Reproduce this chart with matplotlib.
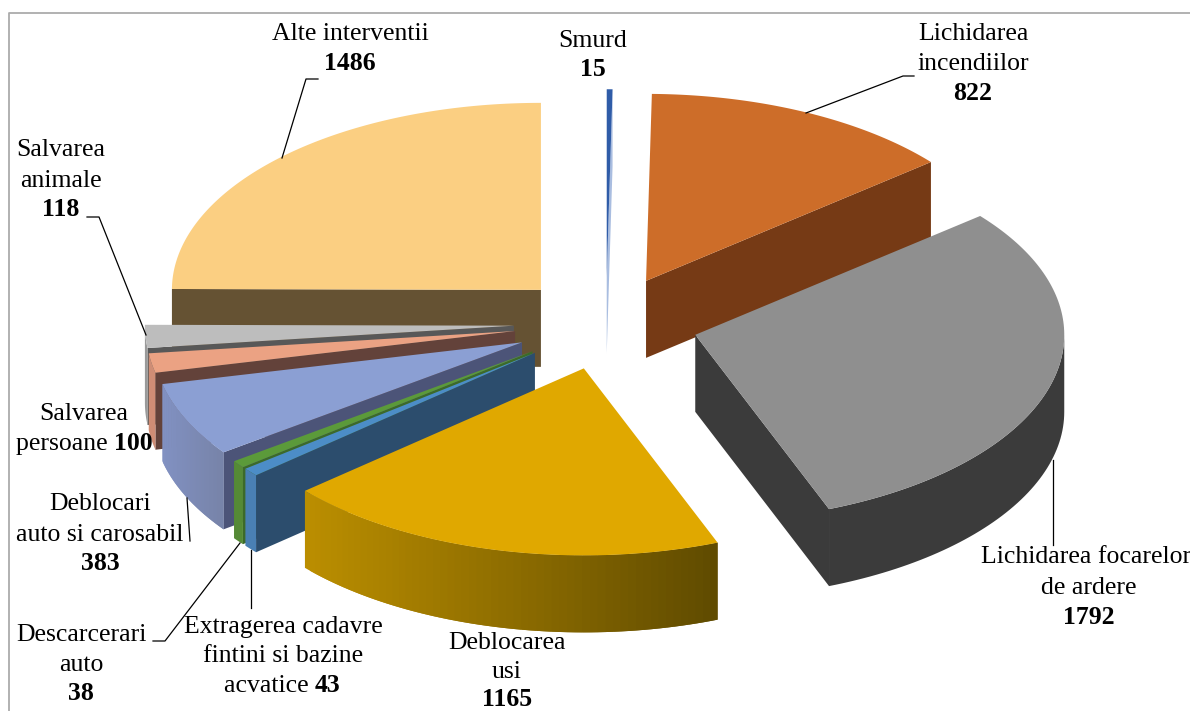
import numpy as np
import matplotlib
matplotlib.use('Agg')
import matplotlib.pyplot as plt
from matplotlib.collections import PolyCollection
from matplotlib.colors import to_rgb

categories = ['Smurd', 'Lichidarea incendiilor', 'Lichidarea focarelor de ardere',
              'Deblocarea usi', 'Extragerea cadavre fintini si bazine acvatice',
              'Descarcerari auto', 'Deblocari auto si carosabil', 'Salvarea persoane',
              'Salvarea animale', 'Alte interventii']
values = [15, 822, 1792, 1165, 43, 38, 383, 100, 118, 1486]

top_colors = ['#2f5ca8', '#cd6d29', '#8f8f8f', '#e0a800', '#4c8dc7',
              '#5b9a3a', '#8b9fd3', '#eba283', '#bdbdbd', '#fbcf82']
face_colors = ['#a9bde0', '#763a15', '#3b3b3b', '#5e4a00', '#2c4d6d',
               '#3c6a2a', '#4c5478', '#63423a', '#585858', '#655233']
rim_left = ['#2f5ca8', '#763a15', '#3b3b3b', '#bb8e00', '#4a80b4',
            '#558a36', '#8191c2', '#cf8d75', '#9a9a9a', '#655233']
rim_right = ['#2f5ca8', '#763a15', '#3b3b3b', '#5e4a00', '#4a80b4',
             '#558a36', '#7783a8', '#cf8d75', '#9a9a9a', '#655233']

# far slices first, the golden one sits on top of the rest
draw_order = [9, 0, 1, 2, 8, 7, 6, 5, 4, 3]

# pie geometry in pixels
cx, cy = 606, 323
rx, ry = 369, 187
depth = 77
explode = 0.25


def ring(t):
    t = np.radians(t)
    return np.column_stack([rx * np.sin(t), -ry * np.cos(t)])


def blend(a, b, f):
    a, b = np.array(to_rgb(a)), np.array(to_rgb(b))
    return tuple(a + (b - a) * f)


def draw_slice(ax, i, start, end):
    mid = (start + end) / 2
    apex = np.array([cx, cy]) + explode * ring(np.array([mid]))[0]
    down = np.array([0, depth])

    # cut faces, only those turned towards the viewer
    for t, visible in ((start, np.sin(np.radians(start)) < 0), (end, np.sin(np.radians(end)) > 0)):
        if visible:
            p = apex + ring(np.array([t]))[0]
            ax.fill(*np.array([apex, p, p + down, apex + down]).T, color=face_colors[i], lw=0)

    # front rim
    r0, r1 = max(start, 90), min(end, 270)
    if r1 > r0:
        ts = np.linspace(r0, r1, 60)
        pts = apex + ring(ts)
        if rim_left[i] == rim_right[i]:
            outline = np.vstack([pts, pts[::-1] + down])
            ax.fill(*outline.T, color=rim_left[i], lw=0)
        else:
            # each band overlaps the next one so no seams show; drawn left to right
            order = np.argsort(pts[:, 0])
            pts = pts[order]
            f = (pts[:, 0] - pts[0, 0]) / max(pts[-1, 0] - pts[0, 0], 1)
            for k in range(len(pts) - 1):
                b = pts[k:k + 3]
                poly = np.vstack([b, b[::-1] + down])
                ax.add_collection(PolyCollection([poly], facecolors=[blend(rim_left[i], rim_right[i], f[k])],
                                                 linewidths=0))

    # top
    ts = np.linspace(start, end, 120)
    outline = np.vstack([apex, apex + ring(ts)])
    ax.fill(*outline.T, color=top_colors[i], lw=0)


def label(ax, x, y, s, bold=False, ha='center'):
    ax.text(x, y + 1, s, ha=ha, va='center', fontsize=FONT_SIZE, color='black',
            fontweight='bold' if bold else 'normal')


FONT_SIZE = 18.5
plt.rcParams['font.family'] = ['Liberation Serif', 'DejaVu Serif']

fig = plt.figure(figsize=(11.9, 7.11), dpi=100)
ax = fig.add_axes([0, 0, 1, 1])
ax.set_xlim(0, 1190)
ax.set_ylim(711, 0)
ax.axis('off')

# chart frame, runs off the picture on the right and at the bottom
ax.plot([8.5, 8.5, 1195], [720, 12.5, 12.5], color='#ababab', lw=1.3)

edges = np.concatenate([[0], np.cumsum(values)]) / sum(values) * 360
for i in draw_order:
    draw_slice(ax, i, edges[i], edges[i + 1])

# leader lines
leaders = [
    [(282, 158), (306, 79), (318, 79)],
    [(806, 113), (903, 76), (914, 76)],
    [(1053, 460), (1053, 545)],
    [(146, 335), (99, 217), (87, 217)],
    [(187, 498), (190, 541)],
    [(240, 543), (165, 641), (153, 641)],
    [(251, 550), (251, 608)],
]
for line in leaders:
    ax.plot(*np.array(line).T, color='black', lw=0.9)

label(ax, 350, 33, 'Alte interventii')
label(ax, 350, 63, str(values[9]), True)
label(ax, 593, 40, categories[0])
label(ax, 593, 69, str(values[0]), True)
label(ax, 973, 33, 'Lichidarea')
label(ax, 973, 63, 'incendiilor')
label(ax, 973, 92, str(values[1]), True)
label(ax, 61, 149, 'Salvarea')
label(ax, 61, 180, 'animale')
label(ax, 61, 209, str(values[8]), True)
label(ax, 84, 413, 'Salvarea')
label(ax, 114, 443, 'persoane ', ha='right')
label(ax, 114, 443, str(values[7]), True, ha='left')
label(ax, 100, 503, 'Deblocari')
label(ax, 100, 534, 'auto si carosabil')
label(ax, 100, 563, str(values[6]), True)
label(ax, 81, 634, 'Descarcerari')
label(ax, 81, 664, 'auto')
label(ax, 81, 693, str(values[5]), True)
label(ax, 283, 626, 'Extragerea cadavre')
label(ax, 283, 655, 'fintini si bazine')
label(ax, 315, 685, 'acvatice ', ha='right')
label(ax, 315, 685, str(values[4]), True, ha='left')
label(ax, 507, 642, 'Deblocarea')
label(ax, 507, 671, 'usi')
label(ax, 507, 699, str(values[3]), True)
label(ax, 1086, 556, 'Lichidarea focarelor')
label(ax, 1089, 587, 'de ardere')
label(ax, 1089, 616, str(values[2]), True)

fig.savefig('out.png', dpi=100)
